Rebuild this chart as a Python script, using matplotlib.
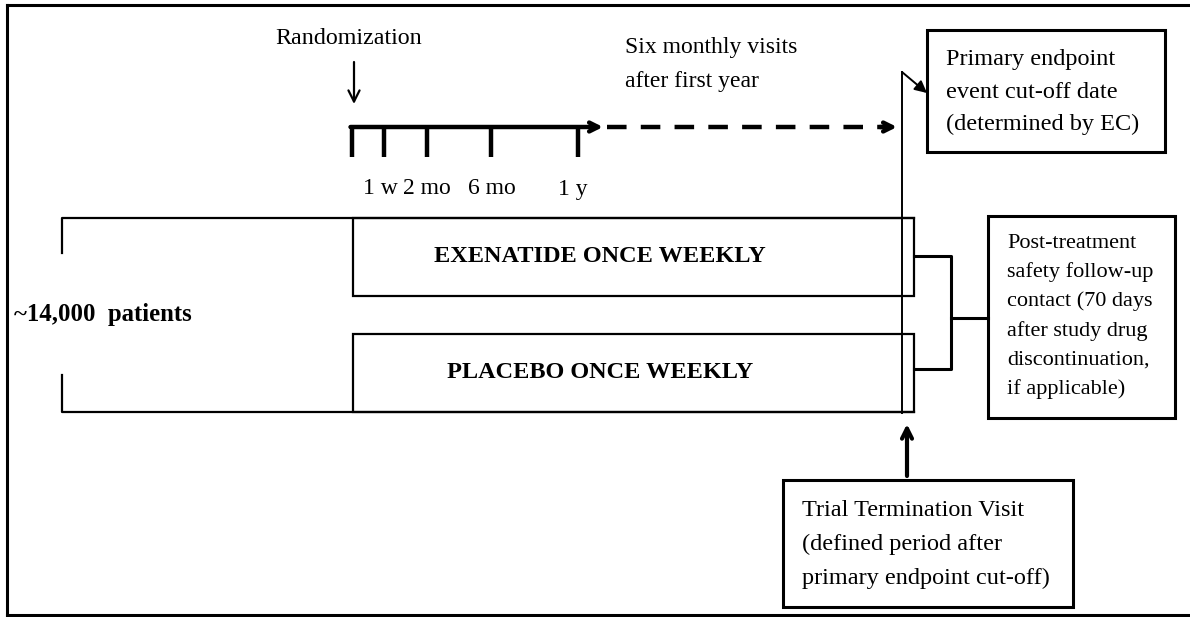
import matplotlib
matplotlib.use('Agg')
import matplotlib.pyplot as plt
from matplotlib.patches import Rectangle

plt.rcParams['font.family'] = ['Liberation Serif', 'DejaVu Serif']

# Diagram content
arm_labels = ['EXENATIDE ONCE WEEKLY', 'PLACEBO ONCE WEEKLY']
arm_top = [218, 334]
arm_bottom = [296, 412]
visit_x = [352, 384, 427, 491, 578]
visit_labels = ['1 w', '2 mo', '6 mo', '1 y']
visit_label_x = [380, 427, 492, 573]
n_patients = '~14,000  patients'
primary_text = ['Primary endpoint', 'event cut-off date', '(determined by EC)']
post_text = ['Post-treatment', 'safety follow-up', 'contact (70 days',
             'after study drug', 'discontinuation,', 'if applicable)']
ttv_text = ['Trial Termination Visit', '(defined period after',
            'primary endpoint cut-off)']

fig = plt.figure(figsize=(11.9, 6.17), dpi=100)
ax = fig.add_axes([0, 0, 1, 1])
ax.set_xlim(0, 1190)
ax.set_ylim(617, 0)
ax.axis('off')

k = 'black'

# outer frame (left, top, bottom)
ax.plot([7, 7], [5, 615], color=k, lw=2.2)
ax.plot([7, 1190], [5, 5], color=k, lw=2.2)
ax.plot([7, 1190], [615, 615], color=k, lw=2.2)

# randomization
ax.text(349, 38, 'Randomization', ha='center', va='center', fontsize=17.3)
ax.annotate('', xy=(354, 104), xytext=(354, 62),
            arrowprops=dict(arrowstyle='->', lw=1.6, color=k,
                            shrinkA=0, shrinkB=0, mutation_scale=20))

# timeline
ax.annotate('', xy=(603, 127), xytext=(visit_x[0] - 1.5, 127),
            arrowprops=dict(arrowstyle='->', lw=3.2, color=k,
                            shrinkA=0, shrinkB=0, mutation_scale=16))
for x in visit_x:
    ax.plot([x, x], [127, 157], color=k, lw=3.2, solid_capstyle='butt')
for x, lab in zip(visit_label_x, visit_labels):
    ax.text(x, 189, lab, ha='center', va='center', fontsize=17)

# dashed continuation
ax.plot([607, 885], [127, 127], color=k, lw=3.2, dashes=(4.4, 3.2))
ax.annotate('', xy=(897, 127), xytext=(880, 127),
            arrowprops=dict(arrowstyle='->', lw=3.2, color=k,
                            shrinkA=0, shrinkB=0, mutation_scale=16))
ax.text(625, 48, 'Six monthly visits', ha='left', va='center', fontsize=17)
ax.text(625, 82, 'after first year', ha='left', va='center', fontsize=17)

# cut-off line
ax.plot([902, 902], [72, 413], color=k, lw=1.4)
ax.annotate('', xy=(927, 93), xytext=(902, 72),
            arrowprops=dict(arrowstyle='-|>', lw=1.4, color=k,
                            shrinkA=0, shrinkB=0, mutation_scale=18))

# primary endpoint box
ax.add_patch(Rectangle((927, 30), 238, 122, fill=False, ec=k, lw=2.2))
for i, t in enumerate(primary_text):
    ax.text(946, 60 + 32 * i, t, ha='left', va='center', fontsize=17.5)

# patients bracket
ax.plot([62, 62, 914], [253, 218, 218], color=k, lw=1.6)
ax.plot([62, 62, 914], [375, 412, 412], color=k, lw=1.6)
ax.text(14, 315, n_patients, ha='left', va='center', fontsize=17.8,
        fontweight='bold')

# treatment arms
for top, bot, lab in zip(arm_top, arm_bottom, arm_labels):
    ax.add_patch(Rectangle((353, top), 914 - 353, bot - top, fill=False,
                           ec=k, lw=1.6))
    ax.text(600, (top + bot) / 2, lab, ha='center', va='center',
            fontsize=17.5, fontweight='bold')

# bracket to post-treatment box
ax.plot([914, 951, 951, 914], [256, 256, 369, 369], color=k, lw=2.2)
ax.plot([951, 988], [318, 318], color=k, lw=2.2)

# post-treatment box
ax.add_patch(Rectangle((988, 216), 187, 202, fill=False, ec=k, lw=2.2))
for i, t in enumerate(post_text):
    ax.text(1007, 243 + 29.2 * i, t, ha='left', va='center', fontsize=16)

# trial termination visit
ax.annotate('', xy=(907, 424), xytext=(907, 476),
            arrowprops=dict(arrowstyle='->', lw=3, color=k,
                            shrinkA=0, shrinkB=0, mutation_scale=18))
ax.add_patch(Rectangle((783, 480), 290, 127, fill=False, ec=k, lw=2.2))
for i, t in enumerate(ttv_text):
    ax.text(802, 510 + 34 * i, t, ha='left', va='center', fontsize=17.5)

fig.savefig('out.png', dpi=100)
